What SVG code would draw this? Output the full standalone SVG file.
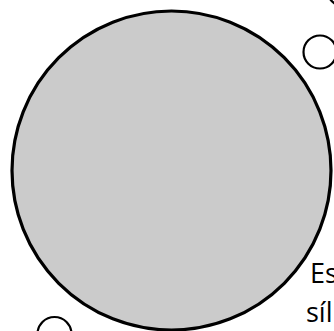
<svg xmlns="http://www.w3.org/2000/svg" width="334" height="331" viewBox="0 0 334 331">
<style>
.big{fill:#cbcbcb;stroke:#000;stroke-width:3.2}
.small{fill:#fff;stroke:#000;stroke-width:2.2}
.lbl{font-family:"Open Sans","Noto Sans",sans-serif;font-size:27px;fill:#000}
</style>
<rect width="334" height="331" fill="#fff"/>
<g id="big-circle"><circle class="big" cx="171.5" cy="170.5" r="159.5"/></g>
<g id="circle-top"><circle class="small" cx="346" cy="-13" r="20"/></g>
<g id="circle-right"><circle class="small" cx="320" cy="52" r="16.5"/></g>
<g id="circle-bottom-left"><circle class="small" cx="54.5" cy="334" r="17"/></g>
<g id="label"><text class="lbl" x="310" y="283">Es</text><text class="lbl" x="306" y="322">síl</text></g>
</svg>
